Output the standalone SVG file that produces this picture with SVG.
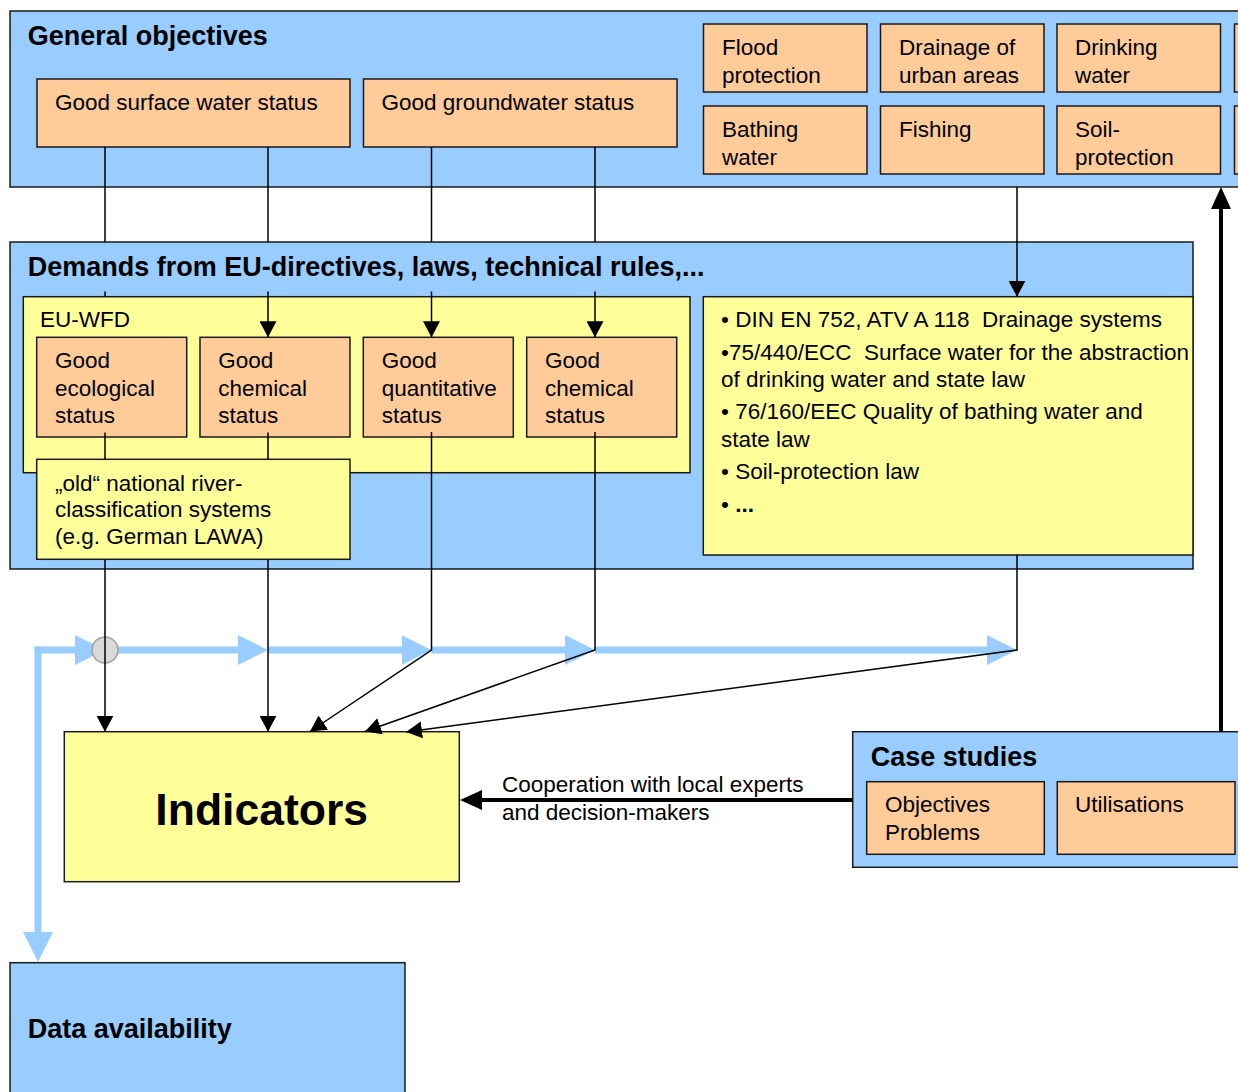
<svg xmlns="http://www.w3.org/2000/svg" width="1238" height="1092" viewBox="0 0 1238 1092">
<style>
text{font-family:"Liberation Sans",Arial,sans-serif;fill:#000}
.t{font-size:22.5px}
.h{font-size:27px;font-weight:bold}
.pre{white-space:pre}
.blue{fill:#99CCFF;stroke:#1a1a1a;stroke-width:1.5}
.or{fill:#FFCC99;stroke:#1a1a1a;stroke-width:1.5}
.ye{fill:#FFFF99;stroke:#1a1a1a;stroke-width:1.5}
.ln{fill:none;stroke:#000;stroke-width:1.5}
.thick{fill:none;stroke:#000;stroke-width:4}
.bl{fill:none;stroke:#99CCFF;stroke-width:7}
</style>
<defs>
<marker id="a" markerUnits="userSpaceOnUse" markerWidth="17" markerHeight="17" refX="16" refY="8.5" orient="auto"><path d="M0,0 L16,8.5 L0,17 z" fill="#000"/></marker>
<marker id="ak" markerUnits="userSpaceOnUse" markerWidth="22" markerHeight="20" refX="4" refY="10" orient="auto"><path d="M0,0 L22,10 L0,20 z" fill="#000"/></marker>
<marker id="ab" markerUnits="userSpaceOnUse" markerWidth="30" markerHeight="30" refX="10" refY="15" orient="auto"><path d="M0,0 L30,15 L0,30 z" fill="#99CCFF"/></marker>
</defs>

<g id="general-objectives">
<rect class="blue" x="10" y="11" width="1250" height="176"/>
<text class="h" x="27.7" y="45">General objectives</text>
</g>
<g id="good-surface-water"><rect class="or" x="37" y="79" width="313" height="68"/><text class="t" x="55" y="110">Good surface water status</text></g>
<g id="good-groundwater"><rect class="or" x="363.5" y="79" width="313.5" height="68"/><text class="t" x="381.5" y="110">Good groundwater status</text></g>
<g id="flood"><rect class="or" x="703.5" y="24" width="163.5" height="68"/><text class="t" x="722" y="55">Flood</text><text class="t" x="722" y="82.7">protection</text></g>
<g id="drainage"><rect class="or" x="880.5" y="24" width="163.5" height="68"/><text class="t" x="899" y="55">Drainage of</text><text class="t" x="899" y="82.7">urban areas</text></g>
<g id="drinking"><rect class="or" x="1057" y="24" width="163.5" height="68"/><text class="t" x="1075" y="55">Drinking</text><text class="t" x="1075" y="82.7">water</text></g>
<g id="extra-top"><rect class="or" x="1234.5" y="24" width="163.5" height="68"/></g>
<g id="bathing"><rect class="or" x="703.5" y="106" width="163.5" height="68"/><text class="t" x="722" y="137.3">Bathing</text><text class="t" x="722" y="164.7">water</text></g>
<g id="fishing"><rect class="or" x="880.5" y="106" width="163.5" height="68"/><text class="t" x="899" y="137.3">Fishing</text></g>
<g id="soil"><rect class="or" x="1057" y="106" width="163.5" height="68"/><text class="t" x="1075" y="137.3">Soil-</text><text class="t" x="1075" y="164.7">protection</text></g>
<g id="extra-bottom"><rect class="or" x="1234.5" y="106" width="163.5" height="68"/></g>

<g id="demands">
<rect class="blue" x="10" y="242" width="1183" height="327"/>
<text class="h" x="27.7" y="275.7">Demands from EU-directives, laws, technical rules,...</text>
</g>
<g id="eu-wfd"><rect class="ye" x="23.3" y="296.7" width="666.7" height="176"/><text class="t" x="40" y="326.7">EU-WFD</text></g>
<g id="good-ecological"><rect class="or" x="36.7" y="337.3" width="150" height="99.7"/><text class="t" x="55" y="368.3">Good</text><text class="t" x="55" y="395.5">ecological</text><text class="t" x="55" y="422.7">status</text></g>
<g id="good-chemical-1"><rect class="or" x="200" y="337.3" width="150" height="99.7"/><text class="t" x="218.3" y="368.3">Good</text><text class="t" x="218.3" y="395.5">chemical</text><text class="t" x="218.3" y="422.7">status</text></g>
<g id="good-quantitative"><rect class="or" x="363.3" y="337.3" width="150" height="99.7"/><text class="t" x="381.7" y="368.3">Good</text><text class="t" x="381.7" y="395.5">quantitative</text><text class="t" x="381.7" y="422.7">status</text></g>
<g id="good-chemical-2"><rect class="or" x="526.7" y="337.3" width="150" height="99.7"/><text class="t" x="545" y="368.3">Good</text><text class="t" x="545" y="395.5">chemical</text><text class="t" x="545" y="422.7">status</text></g>
<g id="old-national"><rect class="ye" x="36.7" y="459.3" width="313.3" height="100"/><text class="t" x="55" y="490.7">„old“ national river-</text><text class="t" x="55" y="517.3">classification systems</text><text class="t" x="55" y="544">(e.g. German LAWA)</text></g>
<g id="rules">
<rect class="ye" x="703.3" y="296.7" width="489.7" height="258.3"/>
<text class="t pre" x="721" y="327">• DIN EN 752, ATV A 118  Drainage systems</text>
<text class="t pre" x="721" y="360">•75/440/ECC  Surface water for the abstraction</text>
<text class="t" x="721" y="387">of drinking water and state law</text>
<text class="t" x="721" y="419">• 76/160/EEC Quality of bathing water and</text>
<text class="t" x="721" y="447">state law</text>
<text class="t" x="721" y="479">• Soil-protection law</text>
<text class="t" x="721" y="512">• <tspan font-weight="bold">...</tspan></text>
</g>

<g id="indicators"><rect class="ye" x="64.3" y="731.7" width="395" height="150"/><text x="261.7" y="825" text-anchor="middle" font-size="44.5" font-weight="bold">Indicators</text></g>
<g id="case-studies">
<rect class="blue" x="852.7" y="731.7" width="400" height="135.6"/>
<text class="h" x="870.7" y="765.7">Case studies</text>
</g>
<g id="objectives-problems"><rect class="or" x="866.7" y="781.7" width="177.6" height="72.6"/><text class="t" x="885" y="812.3">Objectives</text><text class="t" x="885" y="840">Problems</text></g>
<g id="utilisations"><rect class="or" x="1057.3" y="781.7" width="177.7" height="72.6"/><text class="t" x="1075" y="812.3">Utilisations</text></g>
<g id="data-availability"><rect class="blue" x="10" y="962.7" width="395" height="150"/><text class="h" x="27.7" y="1038">Data availability</text></g>

<g id="connectors">
<path class="bl" d="M38,646.5 L38,942" marker-end="url(#ab)"/>
<path class="bl" d="M34.5,650 L85,650" marker-end="url(#ab)"/>
<path class="bl" d="M105,650 L248,650" marker-end="url(#ab)"/>
<path class="bl" d="M268,650 L411.5,650" marker-end="url(#ab)"/>
<path class="bl" d="M431.5,650 L575,650" marker-end="url(#ab)"/>
<path class="bl" d="M595,650 L997,650" marker-end="url(#ab)"/>
<circle cx="105" cy="650" r="13" fill="#d9d9d9" stroke="#a0a0a0" stroke-width="1.5"/>

<path class="ln" d="M105,147 L105,242"/>
<path class="ln" d="M268,147 L268,242"/>
<path class="ln" d="M431.5,147 L431.5,242"/>
<path class="ln" d="M595,147 L595,242"/>
<path class="ln" d="M1017,187 L1017,296.7" marker-end="url(#a)"/>
<path class="ln" d="M105,291.5 L105,296.7"/>
<path class="ln" d="M268,291.5 L268,337.3" marker-end="url(#a)"/>
<path class="ln" d="M431.5,291.5 L431.5,337.3" marker-end="url(#a)"/>
<path class="ln" d="M595,291.5 L595,337.3" marker-end="url(#a)"/>
<path class="ln" d="M105,432.5 L105,459.3"/>
<path class="ln" d="M268,432.5 L268,459.3"/>
<path class="ln" d="M105,559.3 L105,731.7" marker-end="url(#a)"/>
<path class="ln" d="M268,559.3 L268,731.7" marker-end="url(#a)"/>
<path class="ln" d="M431.5,432 L431.5,650 L310,731.5" marker-end="url(#a)"/>
<path class="ln" d="M595,432 L595,650 L365,731.5" marker-end="url(#a)"/>
<path class="ln" d="M1017,555 L1017,650 L406,732" marker-end="url(#a)"/>
<path class="thick" d="M853,800 L478,800" marker-end="url(#ak)"/>
<path class="thick" d="M1221,731.7 L1221,205" marker-end="url(#ak)"/>
<text class="t" x="502" y="791.7">Cooperation with local experts</text>
<text class="t" x="502" y="820">and decision-makers</text>
</g>
</svg>
